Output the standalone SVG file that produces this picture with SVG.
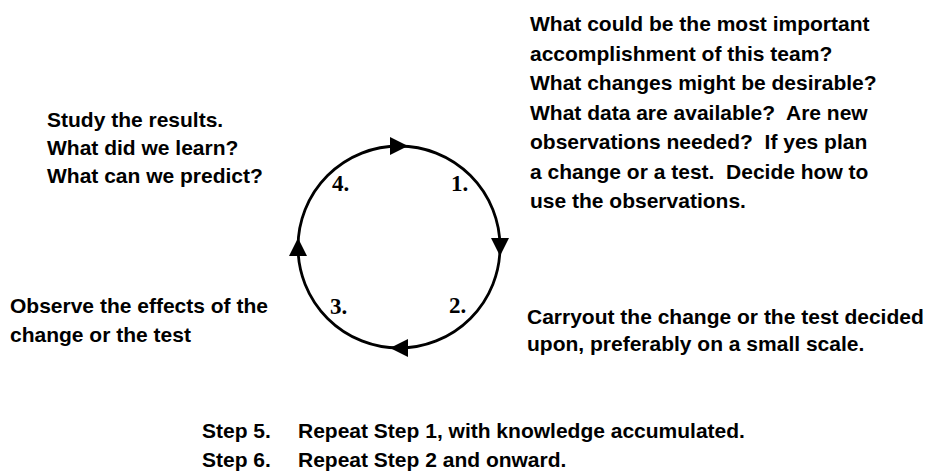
<svg xmlns="http://www.w3.org/2000/svg" width="934" height="475" viewBox="0 0 934 475" xml:space="preserve">
<style>
.t{font-family:"Liberation Sans",Arial,sans-serif;font-weight:bold;font-size:21px;fill:#000;white-space:pre}
.n{font-family:"Liberation Serif","Times New Roman",serif;font-weight:bold;font-size:23px;fill:#000}
.c{fill:none;stroke:#000;stroke-width:2.8}
</style>
<defs>
<marker id="ah" viewBox="0 0 10 10" refX="5" refY="5" markerUnits="userSpaceOnUse" markerWidth="21" markerHeight="18" orient="auto">
<path d="M0,0 L10,5 L0,10 z" fill="#000"/>
</marker>
</defs>
<rect width="934" height="475" fill="#fff"/>
<g id="connectors">
<path class="c" d="M298,247 A101,101 0 0 1 399,146 A101,101 0 0 1 500,247 A101,101 0 0 1 399,348 A101,101 0 0 1 298,247" marker-mid="url(#ah)" marker-end="url(#ah)"/>
</g>
<g id="step1">
<text class="n" x="451" y="191">1.</text>
<text class="t" x="530" y="31">What could be the most important</text>
<text class="t" x="530" y="60.5">accomplishment of this team?</text>
<text class="t" x="530" y="90">What changes might be desirable?</text>
<text class="t" x="530" y="119.5">What data are available?  Are new</text>
<text class="t" x="530" y="149">observations needed?  If yes plan</text>
<text class="t" x="530" y="178.5">a change or a test.  Decide how to</text>
<text class="t" x="530" y="208">use the observations.</text>
</g>
<g id="step2">
<text class="n" x="449" y="313">2.</text>
<text class="t" x="527" y="324">Carryout the change or the test decided</text>
<text class="t" x="527" y="351">upon, preferably on a small scale.</text>
</g>
<g id="step3">
<text class="n" x="330" y="314">3.</text>
<text class="t" x="10" y="313">Observe the effects of the</text>
<text class="t" x="10" y="342">change or the test</text>
</g>
<g id="step4">
<text class="n" x="332" y="191">4.</text>
<text class="t" x="47" y="127">Study the results.</text>
<text class="t" x="47" y="155">What did we learn?</text>
<text class="t" x="47" y="183">What can we predict?</text>
</g>
<g id="steps56">
<text class="t" x="202" y="438">Step 5.</text>
<text class="t" x="298" y="438">Repeat Step 1, with knowledge accumulated.</text>
<text class="t" x="202" y="467">Step 6.</text>
<text class="t" x="298" y="467">Repeat Step 2 and onward.</text>
</g>
</svg>
